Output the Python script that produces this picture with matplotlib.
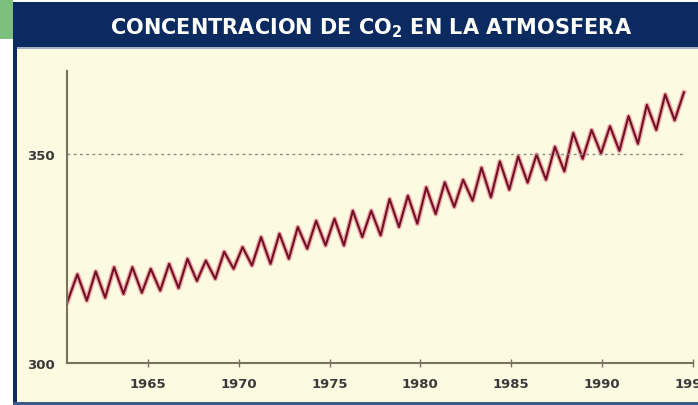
import matplotlib
matplotlib.use("Agg")
import matplotlib.pyplot as plt
from matplotlib.patches import Rectangle

# --- datos (ppm de CO2) ---
start_year, start_ppm = 1960.57, 314.6
end_year, end_ppm = 1994.5, 364.7

peak_years = [1961.12, 1962.13, 1963.14, 1964.15, 1965.16, 1966.17, 1967.18,
              1968.19, 1969.20, 1970.21, 1971.23, 1972.24, 1973.25, 1974.26,
              1975.27, 1976.28, 1977.29, 1978.30, 1979.31, 1980.32, 1981.34,
              1982.35, 1983.36, 1984.37, 1985.38, 1986.39, 1987.40, 1988.41,
              1989.42, 1990.43, 1991.45, 1992.46, 1993.47]
peak_ppm = [321.2, 321.9, 322.9, 322.9, 322.5, 323.7, 324.9, 324.5, 326.6,
            327.7, 330.1, 330.9, 332.5, 334.0, 334.5, 336.4, 336.4, 339.2,
            340.0, 342.0, 343.2, 343.8, 346.7, 348.2, 349.4, 349.8, 351.7,
            355.0, 355.7, 356.6, 359.0, 361.7, 364.2]

trough_years = [1961.64, 1962.65, 1963.66, 1964.67, 1965.68, 1966.69, 1967.70,
                1968.71, 1969.72, 1970.73, 1971.75, 1972.76, 1973.77, 1974.78,
                1975.79, 1976.80, 1977.81, 1978.82, 1979.83, 1980.84, 1981.86,
                1982.87, 1983.88, 1984.89, 1985.90, 1986.91, 1987.92, 1988.93,
                1989.94, 1990.95, 1991.97, 1992.98, 1993.99]
trough_ppm = [314.9, 315.6, 316.5, 316.8, 317.3, 317.9, 319.6, 320.1, 322.5,
              323.3, 323.7, 324.9, 327.3, 328.1, 328.1, 330.1, 330.5, 332.5,
              333.3, 335.6, 337.3, 338.8, 339.6, 341.4, 343.1, 343.8, 345.8,
              348.8, 350.1, 350.7, 352.4, 355.7, 358.0]

x_ticks = [1965, 1970, 1975, 1980, 1985, 1990, 1995]
y_ticks = [300, 350]
title = r"CONCENTRACION DE CO$_\mathbf{2}$ EN LA ATMOSFERA"

# serie en zigzag: inicio, pico, valle, ... , final
xs = [start_year]
ys = [start_ppm]
for py, pv, ty, tv in zip(peak_years, peak_ppm, trough_years, trough_ppm):
    xs += [py, ty]
    ys += [pv, tv]
xs.append(end_year)
ys.append(end_ppm)

navy = "#0b2b60"
cream = "#fdfae2"
W, H = 698, 406

fig = plt.figure(figsize=(6.98, 4.06), dpi=100, facecolor="white")

def box(x0, y0, x1, y1, color):
    # rectangulo en pixeles (origen arriba a la izquierda)
    fig.add_artist(Rectangle((x0 / W, 1 - y1 / H), (x1 - x0) / W, (y1 - y0) / H,
                             transform=fig.transFigure, color=color, lw=0, zorder=-2))

box(0, 0, 13, 40, "#7dbf7e")
box(13, 3, W, 48, navy)
box(13, 48, W, 50, "#9fb0c8")
box(13, 48, 17, H, navy)
box(17, 50, W, 403, cream)
box(13, 403, W, H, "#3d5a88")

fig.text(0.532, 0.931, title, color="white", fontsize=15, fontweight="bold",
         family="DejaVu Sans", ha="center", va="center")

ax = fig.add_axes([67 / W, 1 - 364 / H, 626 / W, 292 / H])
ax.set_facecolor("none")
ax.plot(xs, ys, color="#e8506a", lw=3.4, alpha=0.5, solid_joinstyle="round")
ax.plot(xs, ys, color="#6e1226", lw=1.5, solid_joinstyle="round")
ax.axhline(350, color="#8a8a80", lw=1, ls=(0, (2, 2.5)), xmax=0.985)

ax.set_xlim(1960.55, 1994.9)
ax.set_ylim(300, 369.8)
ax.set_xticks(x_ticks)
ax.set_yticks(y_ticks)
ax.set_xticklabels([str(t) for t in x_ticks])
for s in ["top", "right"]:
    ax.spines[s].set_visible(False)
for s in ["left", "bottom"]:
    ax.spines[s].set_color("#7a705e")
    ax.spines[s].set_linewidth(1.5)
ax.tick_params(axis="x", direction="inout", length=6, width=1, color="#7a705e",
               labelsize=9.5, labelcolor="#3a3a3a", pad=7)
ax.tick_params(axis="y", length=0, labelsize=9.5, labelcolor="#3a3a3a", pad=9)
for lab in ax.get_xticklabels() + ax.get_yticklabels():
    lab.set_fontweight("bold")

fig.savefig("out.png", dpi=100, facecolor=fig.get_facecolor())
